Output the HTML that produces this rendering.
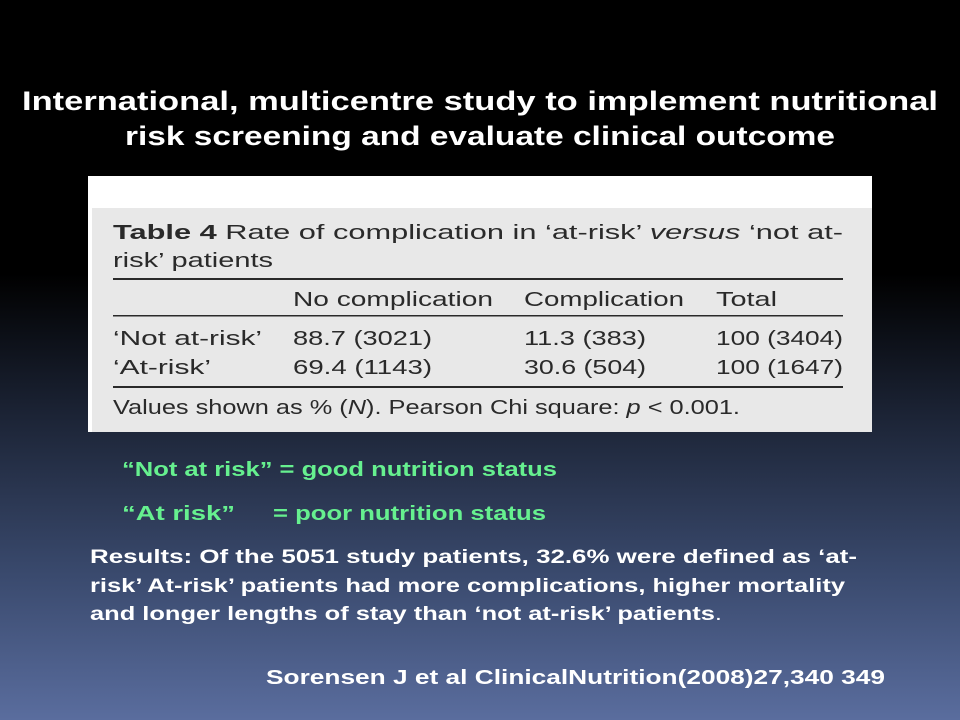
<!DOCTYPE html>
<html><head><meta charset="utf-8"><style>
html,body{margin:0;padding:0;width:960px;height:720px;overflow:hidden;}
body{background:linear-gradient(180deg,#000 0%,#000 38%,#1c2436 58%,#3a4a6e 80%,#5a6d9e 100%);}
svg{display:block;font-family:"Liberation Sans",sans-serif;}
</style></head><body>
<svg width="960" height="720" viewBox="0 0 960 720">
<g fill="#fff" font-weight="bold" font-size="27" text-anchor="start">
<text x="22" y="110" textLength="916" lengthAdjust="spacingAndGlyphs">International, multicentre study to implement nutritional</text>
<text x="125" y="145" textLength="710" lengthAdjust="spacingAndGlyphs">risk screening and evaluate clinical outcome</text>
</g>
<g>
<rect x="88" y="176" width="784" height="256" fill="#fff"/>
<rect x="92" y="208" width="780" height="224" fill="#e8e8e8"/>
<g fill="#2a2a2a" font-size="20">
<text x="113" y="239" textLength="730" lengthAdjust="spacingAndGlyphs"><tspan font-weight="bold">Table 4</tspan>   Rate of complication in ‘at-risk’ <tspan font-style="italic">versus</tspan> ‘not at-</text>
<text x="113" y="267" textLength="160" lengthAdjust="spacingAndGlyphs">risk’ patients</text>
<rect x="113" y="278" width="730" height="2" fill="#2a2a2a"/>
<text x="293" y="306" textLength="200" lengthAdjust="spacingAndGlyphs">No complication</text>
<text x="524" y="306" textLength="160" lengthAdjust="spacingAndGlyphs">Complication</text>
<text x="716" y="306" textLength="61" lengthAdjust="spacingAndGlyphs">Total</text>
<rect x="113" y="315" width="730" height="1.5" fill="#2a2a2a"/>
<text x="113" y="345" textLength="149" lengthAdjust="spacingAndGlyphs">‘Not at-risk’</text>
<text x="293" y="345" textLength="139" lengthAdjust="spacingAndGlyphs">88.7 (3021)</text>
<text x="524" y="345" textLength="122" lengthAdjust="spacingAndGlyphs">11.3 (383)</text>
<text x="716" y="345" textLength="127" lengthAdjust="spacingAndGlyphs">100 (3404)</text>
<text x="113" y="374" textLength="98" lengthAdjust="spacingAndGlyphs">‘At-risk’</text>
<text x="293" y="374" textLength="139" lengthAdjust="spacingAndGlyphs">69.4 (1143)</text>
<text x="524" y="374" textLength="122" lengthAdjust="spacingAndGlyphs">30.6 (504)</text>
<text x="716" y="374" textLength="127" lengthAdjust="spacingAndGlyphs">100 (1647)</text>
<rect x="113" y="386" width="730" height="2" fill="#2a2a2a"/>
<text x="113" y="414" textLength="627" lengthAdjust="spacingAndGlyphs">Values shown as % (<tspan font-style="italic">N</tspan>). Pearson Chi square: <tspan font-style="italic">p</tspan> &lt; 0.001.</text>
</g>
</g>
<g fill="#66f08f" font-weight="bold" font-size="20">
<text x="122" y="476" textLength="435" lengthAdjust="spacingAndGlyphs">“Not at risk” = good nutrition status</text>
<text x="122" y="520" textLength="113" lengthAdjust="spacingAndGlyphs">“At risk”</text>
<text x="273" y="520" textLength="273" lengthAdjust="spacingAndGlyphs">= poor nutrition status</text>
</g>
<g fill="#fff" font-weight="bold" font-size="19">
<text x="90" y="563" textLength="767" lengthAdjust="spacingAndGlyphs">Results: Of the 5051 study patients, 32.6% were defined as ‘at-</text>
<text x="90" y="592" textLength="755" lengthAdjust="spacingAndGlyphs">risk’ At-risk’ patients had more complications, higher mortality</text>
<text x="90" y="620" textLength="632" lengthAdjust="spacingAndGlyphs">and longer lengths of stay than ‘not at-risk’ patients<tspan font-weight="normal">.</tspan></text>
</g>
<text x="266" y="684" fill="#fff" font-weight="bold" font-size="20" textLength="619" lengthAdjust="spacingAndGlyphs">Sorensen J et al  ClinicalNutrition(2008)27,340  349</text>
</svg>
</body></html>
